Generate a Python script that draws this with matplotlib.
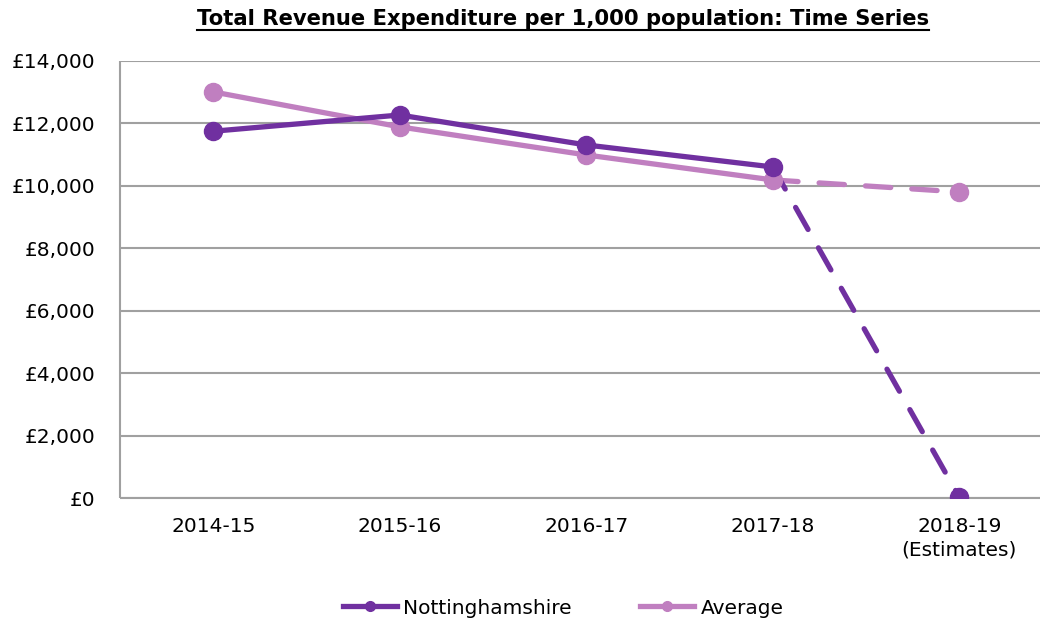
import matplotlib
matplotlib.use("Agg")
import matplotlib.pyplot as plt
from matplotlib.lines import Line2D

# data
years = ["2014-15", "2015-16", "2016-17", "2017-18", "2018-19\n(Estimates)"]
notts = [11750, 12270, 11310, 10605, 30]
average = [13010, 11890, 10990, 10190, 9805]
yticks = [0, 2000, 4000, 6000, 8000, 10000, 12000, 14000]

notts_col = "#7030A0"
avg_col = "#C07FC0"
grid_col = "#A0A0A0"

plt.rcParams['font.family'] = ['DejaVu Sans']

fig = plt.figure(figsize=(10.4, 6.23), dpi=100)
ax = fig.add_axes([120/1040, 1 - 498/623, (1040-120)/1040, (498-61)/623])

x = list(range(len(years)))
step = 186.5
ax.set_xlim(-0.5, -0.5 + (1040 - 120) / step)
ax.set_ylim(0, 14000)

# solid part up to 2017-18, dashed to the estimate
for vals, col in [(average, avg_col), (notts, notts_col)]:
    ax.plot(x[:4], vals[:4], color=col, lw=3.8, solid_capstyle='round', zorder=3)
    ax.plot(x[3:], vals[3:], color=col, lw=3.8, dashes=(4.8, 4),
            dash_capstyle='round', zorder=3)
    ax.plot(x, vals, ls='none', marker='o', ms=13, color=col, zorder=4)

ax.set_yticks(yticks)
ax.set_yticklabels(["£{:,}".format(v) for v in yticks])
ax.set_xticks(x)
ax.set_xticklabels(years, linespacing=1.3)
ax.tick_params(axis='both', length=0, labelsize=14.5, colors='black')
ax.tick_params(axis='y', pad=18)
ax.tick_params(axis='x', pad=14)

ax.grid(axis='y', color=grid_col, lw=1.5)
ax.set_axisbelow(True)
for s in ['top', 'right']:
    ax.spines[s].set_visible(False)
for s in ['left', 'bottom']:
    ax.spines[s].set_color(grid_col)
    ax.spines[s].set_linewidth(1.5)
    ax.spines[s].set_capstyle('butt')

handles = [Line2D([0], [0], color=notts_col, lw=3.8, marker='o', ms=7),
           Line2D([0], [0], color=avg_col, lw=3.8, marker='o', ms=7)]
fig.legend(handles, ["Nottinghamshire", "Average"], loc='center',
           bbox_to_anchor=(563/1040, 1 - 608/623), ncol=2, frameon=False,
           fontsize=14.5, handlelength=2.7, handletextpad=0.3, columnspacing=3.4)

title = fig.text(563/1040, 1 - 19/623, "Total Revenue Expenditure per 1,000 population: Time Series",
                 ha='center', va='center', fontsize=15.2, fontweight='bold')

# underline the title
fig.canvas.draw()
bb = title.get_window_extent(fig.canvas.get_renderer())
inv = fig.transFigure.inverted()
(x0, y0), (x1, y1) = inv.transform([(bb.x0, bb.y0), (bb.x1, bb.y1)])
fig.add_artist(Line2D([x0, x1], [y0 - 0.002, y0 - 0.002], color='black', lw=1.5,
                      transform=fig.transFigure))

fig.savefig("out.png", dpi=100)
